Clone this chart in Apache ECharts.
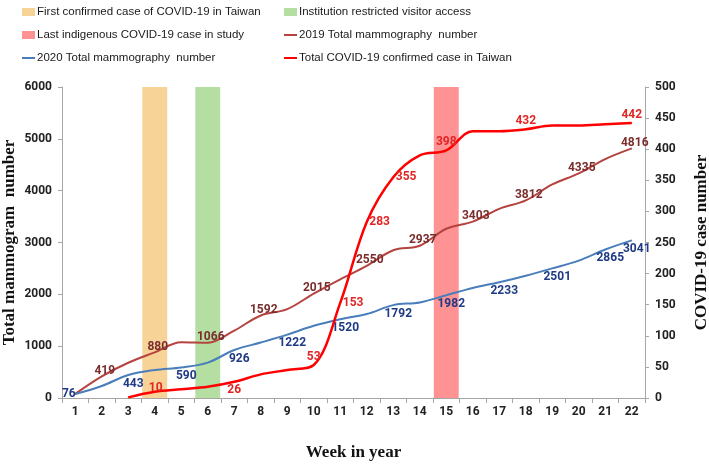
<!DOCTYPE html>
<html>
<head>
<meta charset="utf-8">
<script src="https://cdn.jsdelivr.net/npm/echarts@6/dist/echarts.min.js"></script>
<style>html,body{margin:0;padding:0;background:#fff;}#c{width:709px;height:464px;}</style>
</head>
<body>
<div id="c"></div>
<script>
// ---- data ----
const weeks = ['1','2','3','4','5','6','7','8','9','10','11','12','13','14','15','16','17','18','19','20','21','22'];
const mammo2019 = [80, 419, 680, 880, 1075, 1066, 1300, 1592, 1716, 2015, 2290, 2550, 2850, 2937, 3265, 3403, 3650, 3812, 4120, 4335, 4610, 4816];
const mammo2020 = [76, 232, 443, 541, 590, 683, 926, 1070, 1222, 1393, 1520, 1619, 1792, 1844, 1982, 2122, 2233, 2360, 2501, 2650, 2865, 3041];
const covidCases = [null, null, 1, 10, 14, 18, 26, 38, 45, 53, 153, 283, 355, 390, 398, 429, 429, 432, 438, 438, 440, 442];
const labelled2019 = [2, 4, 6, 8, 10, 12, 14, 16, 18, 20, 22];
const labelled2020 = [1, 3, 5, 7, 9, 11, 13, 15, 17, 19, 21, 22];
const labelledCovid = [4, 7, 10, 11, 12, 13, 15, 18, 22];
const firstCaseWeek = 4;
const restrictedWeek = 6;
const lastCaseWeek = 15;
const leftMax = 6000, leftStep = 1000;
const rightMax = 500, rightStep = 50;

const names = {
  first: 'First confirmed case of COVID-19 in Taiwan',
  restricted: 'Institution restricted visitor access',
  last: 'Last indigenous COVID-19 case in study',
  y2019: '2019 Total mammography  number',
  y2020: '2020 Total mammography  number',
  covid: 'Total COVID-19 confirmed case in Taiwan'
};

const sansL = "'Liberation Sans', Arial, sans-serif";
const serif = "'Liberation Serif', 'DejaVu Serif', serif";
const lblFont = "Roboto, 'Liberation Sans', sans-serif";

function bandData(week) {
  return weeks.map((w, i) => (i + 1 === week ? leftMax : null));
}

const covidPos = {4: 'top', 7: 'bottom', 10: 'top', 11: 'right', 12: 'right', 13: 'right', 15: 'top', 18: 'top', 22: 'top'};

function lineData(values, labelled, labelFn) {
  return values.map((v, i) => {
    const wk = i + 1;
    if (v === null) return null;
    if (labelled.indexOf(wk) >= 0) {
      return {value: v, label: Object.assign({show: true}, labelFn(wk))};
    }
    return {value: v};
  });
}

const d2019 = lineData(mammo2019, labelled2019, wk => ({position: 'top', distance: 1, offset: [3, 2]}));
const d2020 = lineData(mammo2020, labelled2020, wk => (wk === 1 ? {position: 'left', distance: 0, offset: [1, 0]} : {position: 'bottom', distance: 2, offset: [5, 0]}));
const dCovid = lineData(covidCases, labelledCovid, wk => {
  const p = covidPos[wk];
  if (wk === 4) return {position: 'top', distance: -3, offset: [1, 0]};
  if (p === 'right') return {position: 'right', distance: 2};
  return {position: p, distance: 2};
});

function legendItem(name, left, top, isLine) {
  return {
    data: [{name: name, icon: 'rect'}],
    left: left, top: top,
    itemWidth: 13, itemHeight: isLine ? 2 : 8,
    textStyle: {fontFamily: sansL, fontSize: 11.5, color: '#1a1a1a', padding: [0, 0, 0, -3]},
    selectedMode: false
  };
}

const plain = v => String(v);

const chart = echarts.init(document.getElementById('c'), null, {renderer: 'canvas'});
chart.setOption({
  animation: false,
  backgroundColor: '#fff',
  legend: [
    legendItem(names.first, 17, 1, false),
    legendItem(names.restricted, 279, 1, false),
    legendItem(names.last, 17, 24, false),
    legendItem(names.y2019, 279, 24, true),
    legendItem(names.y2020, 17, 47, true),
    legendItem(names.covid, 279, 47, true)
  ],
  grid: {left: 62, right: 64, top: 87, bottom: 66, containLabel: false, outerBoundsMode: 'none'},
  xAxis: {
    type: 'category',
    data: weeks,
    boundaryGap: true,
    name: 'Week in year',
    nameLocation: 'middle',
    nameGap: 46,
    nameMoveOverlap: false,
    nameTextStyle: {fontFamily: serif, fontWeight: 'bold', fontSize: 17, color: '#111'},
    axisLine: {lineStyle: {color: '#a6a6a6', width: 1}},
    axisTick: {show: true, interval: 0, length: 5, lineStyle: {color: '#a6a6a6'}},
    axisLabel: {interval: 0, margin: 8, fontFamily: lblFont, fontWeight: 'bold', fontSize: 12, color: '#222'}
  },
  yAxis: [
    {
      type: 'value', min: 0, max: leftMax, interval: leftStep,
      name: 'Total mammogram  number',
      nameLocation: 'middle', nameRotate: 90, nameGap: 44,
      nameMoveOverlap: false,
      nameTextStyle: {fontFamily: serif, fontWeight: 'bold', fontSize: 17, color: '#111'},
      axisLine: {show: true, lineStyle: {color: '#a6a6a6'}},
      axisTick: {show: true, length: 4, lineStyle: {color: '#a6a6a6'}},
      splitLine: {show: false},
      axisLabel: {margin: 10, formatter: plain, fontFamily: lblFont, fontWeight: 'bold', fontSize: 12, color: '#222'}
    },
    {
      type: 'value', min: 0, max: rightMax, interval: rightStep,
      position: 'right',
      name: 'COVID-19 case number',
      nameLocation: 'middle', nameRotate: 90, nameGap: 48,
      nameMoveOverlap: false,
      nameTextStyle: {fontFamily: serif, fontWeight: 'bold', fontSize: 17, color: '#111'},
      axisLine: {show: true, lineStyle: {color: '#a6a6a6'}},
      axisTick: {show: true, length: 4, lineStyle: {color: '#a6a6a6'}},
      splitLine: {show: false},
      axisLabel: {margin: 10, formatter: plain, fontFamily: lblFont, fontWeight: 'bold', fontSize: 12, color: '#222'}
    }
  ],
  series: [
    {name: names.first, type: 'bar', stack: 'bands', barWidth: '94%', data: bandData(firstCaseWeek), itemStyle: {color: '#F8D398'}, z: 1},
    {name: names.restricted, type: 'bar', stack: 'bands', barWidth: '94%', data: bandData(restrictedWeek), itemStyle: {color: '#B4DEA2'}, z: 1},
    {name: names.last, type: 'bar', stack: 'bands', barWidth: '94%', data: bandData(lastCaseWeek), itemStyle: {color: '#FF9292'}, z: 1},
    {
      name: names.y2019, type: 'line', yAxisIndex: 0, smooth: 0.35,
      data: d2019, symbol: 'circle', symbolSize: 1, showSymbol: true,
      lineStyle: {color: '#B5433F', width: 2}, itemStyle: {color: '#B5433F'},
      label: {show: false, fontFamily: lblFont, fontWeight: 'bold', fontSize: 12, color: '#7A2D2D'},
      z: 3
    },
    {
      name: names.y2020, type: 'line', yAxisIndex: 0, smooth: 0.35,
      data: d2020, symbol: 'circle', symbolSize: 1, showSymbol: true,
      lineStyle: {color: '#4A7EBB', width: 2}, itemStyle: {color: '#4A7EBB'},
      label: {show: false, fontFamily: lblFont, fontWeight: 'bold', fontSize: 12, color: '#1F3A85'},
      z: 3
    },
    {
      name: names.covid, type: 'line', yAxisIndex: 1, smooth: 0.35,
      data: dCovid, symbol: 'circle', symbolSize: 1, showSymbol: true,
      lineStyle: {color: '#FF0000', width: 2.5}, itemStyle: {color: '#FF0000'},
      label: {show: false, fontFamily: lblFont, fontWeight: 'bold', fontSize: 12, color: '#E02626'},
      z: 4
    }
  ]
});
</script>
</body>
</html>
